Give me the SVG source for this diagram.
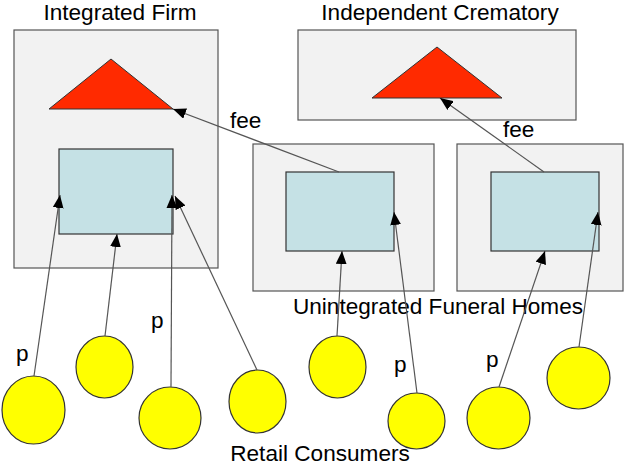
<svg xmlns="http://www.w3.org/2000/svg" width="625" height="465" viewBox="0 0 625 465">
<defs>
<marker id="ah" viewBox="0 0 12 10" refX="12" refY="5" markerWidth="13" markerHeight="11" markerUnits="userSpaceOnUse" orient="auto">
<path d="M0,0 L12,5 L0,10 Z" fill="#000"/>
</marker>
<style>
.box{fill:#f2f2f2;stroke:#555;stroke-width:1.2}
.tri{fill:#ff2a00;stroke:#333;stroke-width:1}
.home{fill:#c5e1e5;stroke:#333;stroke-width:1.2}
.cons{fill:#ffff00;stroke:#333;stroke-width:1.2}
.lbl{font-family:"Liberation Sans",Arial,sans-serif;font-size:22.6px;fill:#000}
.conn line{stroke:#555;stroke-width:1.2;marker-end:url(#ah)}
</style>
</defs>
<rect width="625" height="465" fill="#fff"/>
<g id="integrated-firm">
<rect class="box" x="14" y="30" width="204" height="238"/>
<polygon class="tri" points="111,59 49,109 173,109"/>
<rect class="home" x="59" y="149" width="114" height="85"/>
<text class="lbl" x="120" y="20" text-anchor="middle">Integrated Firm</text>
</g>
<g id="independent-crematory">
<rect class="box" x="298" y="30" width="278" height="90"/>
<polygon class="tri" points="437,47 372,98 502,98"/>
<text class="lbl" x="440" y="20" text-anchor="middle">Independent Crematory</text>
</g>
<g id="funeral-home-1">
<rect class="box" x="253" y="144" width="181" height="147"/>
<rect class="home" x="286" y="172" width="108" height="79"/>
</g>
<g id="funeral-home-2">
<rect class="box" x="457" y="144" width="166" height="147"/>
<rect class="home" x="491" y="172" width="108" height="79"/>
</g>
<text id="unintegrated-label" class="lbl" x="438" y="314" text-anchor="middle">Unintegrated Funeral Homes</text>
<g id="consumers">
<ellipse id="c1" class="cons" cx="33.5" cy="410" rx="31.5" ry="34"/>
<ellipse id="c2" class="cons" cx="104.5" cy="367" rx="28.5" ry="31"/>
<ellipse id="c3" class="cons" cx="170" cy="418" rx="31" ry="31"/>
<ellipse id="c4" class="cons" cx="257.5" cy="401.5" rx="28.5" ry="31.5"/>
<ellipse id="c5" class="cons" cx="337.5" cy="367" rx="28.5" ry="31"/>
<ellipse id="c6" class="cons" cx="416.5" cy="421" rx="28.5" ry="28"/>
<ellipse id="c7" class="cons" cx="498.5" cy="418" rx="31.5" ry="31"/>
<ellipse id="c8" class="cons" cx="578.5" cy="378" rx="31.5" ry="31"/>
</g>
<text id="retail-label" class="lbl" x="320" y="461" text-anchor="middle">Retail Consumers</text>
<g id="connectors" class="conn">
<line x1="339" y1="172" x2="173" y2="109"/>
<line x1="544" y1="172" x2="440" y2="98"/>
<line x1="34" y1="376" x2="60" y2="195"/>
<line x1="105" y1="336" x2="117" y2="234"/>
<line x1="171" y1="387" x2="172" y2="195"/>
<line x1="257" y1="370" x2="175" y2="196"/>
<line x1="337" y1="336" x2="342" y2="251"/>
<line x1="417" y1="393" x2="394" y2="212"/>
<line x1="499" y1="387" x2="545" y2="251"/>
<line x1="579" y1="347" x2="598" y2="212"/>
</g>
<g id="edge-labels">
<text class="lbl" x="230" y="128">fee</text>
<text class="lbl" x="503" y="137">fee</text>
<text class="lbl" x="16" y="361">p</text>
<text class="lbl" x="151" y="328">p</text>
<text class="lbl" x="394" y="372">p</text>
<text class="lbl" x="486" y="367">p</text>
</g>
</svg>
